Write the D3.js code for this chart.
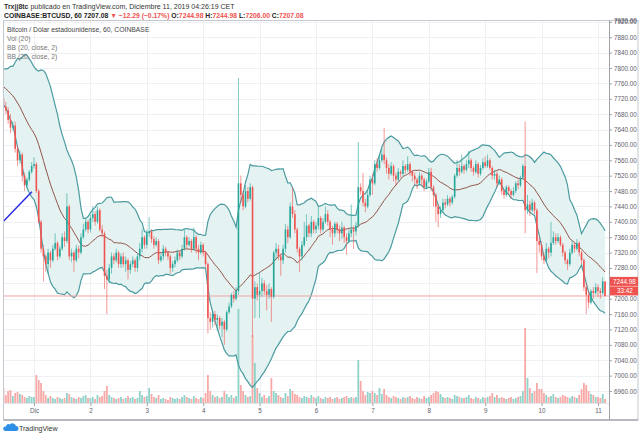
<!DOCTYPE html>
<html><head><meta charset="utf-8">
<script src="https://cdn.jsdelivr.net/npm/d3@7"></script>
<style>body{margin:0;background:#fff;}svg{display:block;font-family:"Liberation Sans",Arial,sans-serif;}</style>
</head><body><svg id="c" width="640" height="435"></svg>
<script>
// hours relative to Dec 1 00:00; first candle = Nov 30 11:00
const startHour = -13;
const firstOpen = 7722;
// 19 closes before the first visible candle (feed the BB(20) calculation only)
const priorCloses = [7790,7785,7770,7775,7760,7765,7780,7770,7755,7750,7760,7745,7740,7730,7745,7735,7725,7730,7715];
const closes = [
 7700,7690,7665,7645,7650,7590,7560,7575,7520,7495,7510,7530,7545,
 7550,7480,7400,7330,7310,7290,7320,7300,7330,7345,7310,7330,7360,7350,7440,7310,7320,7300,7330,7320,7360,7380,7400,7380,
 7410,7420,7400,7430,7380,7370,7260,7250,7280,7310,7300,7320,7290,7310,7290,7300,7275,7290,7300,7280,7310,7330,7360,7340,
 7370,7375,7355,7340,7350,7300,7310,7330,7320,7310,7280,7290,7300,7320,7310,7330,7360,7340,7350,7330,7360,7330,7320,7340,
 7320,7290,7150,7140,7160,7145,7150,7130,7140,7120,7165,7180,7210,7200,7220,7500,7470,7440,7480,7460,7490,7200,7230,7210,
 7220,7240,7220,7210,7225,7205,7320,7330,7310,7300,7330,7380,7360,7440,7420,7380,7330,7310,7340,7360,7390,7370,7400,7380,
 7390,7410,7380,7400,7420,7400,7380,7370,7395,7380,7370,7385,7360,7350,7370,7380,7375,7390,7490,7480,7450,7440,7470,7510,
 7500,7550,7540,7560,7575,7560,7540,7525,7545,7520,7510,7530,7525,7545,7535,7550,7530,7520,7510,7500,7520,7510,7490,7505,
 7530,7490,7470,7440,7420,7430,7450,7445,7460,7450,7465,7520,7540,7530,7545,7535,7550,7560,7540,7530,7550,7525,7540,7555,
 7545,7560,7540,7520,7525,7500,7510,7480,7470,7490,7480,7470,7480,7500,7495,7515,7545,7430,7445,7430,7450,7430,7350,7340,
 7310,7300,7330,7320,7345,7360,7350,7360,7340,7320,7300,7290,7320,7340,7330,7345,7320,7300,7230,7210,7190,7220,7215,7230,
 7220,7215,7244.98,7207.08];
const highs = [
 7730,7712,7698,7680,7662,7660,7600,7585,7580,7528,7515,7535,7555,
 7568,7555,7485,7405,7340,7315,7330,7325,7340,7370,7350,7338,7370,7375,7474,7445,7330,7325,7340,7338,7370,7395,7410,7405,
 7418,7440,7428,7440,7435,7392,7375,7275,7290,7320,7318,7330,7325,7318,7320,7310,7305,7298,7310,7305,7318,7345,7380,7365,
 7380,7412,7380,7362,7360,7355,7318,7340,7335,7325,7315,7298,7310,7328,7325,7340,7380,7365,7360,7355,7385,7365,7340,7348,
 7345,7325,7295,7165,7170,7168,7160,7155,7150,7145,7170,7190,7215,7220,7230,7774,7520,7480,7495,7490,7500,7495,7245,7240,
 7270,7255,7248,7235,7240,7230,7325,7345,7340,7318,7340,7395,7390,7450,7490,7430,7385,7335,7350,7400,7420,7395,7415,7405,
 7400,7440,7415,7410,7440,7430,7405,7390,7400,7400,7390,7400,7390,7370,7380,7445,7390,7400,7607,7500,7527,7460,7480,7520,
 7525,7560,7565,7575,7590,7644,7568,7550,7555,7550,7528,7540,7535,7560,7550,7570,7555,7535,7528,7515,7530,7525,7515,7512,
 7540,7540,7495,7475,7445,7440,7460,7460,7470,7465,7470,7525,7560,7550,7575,7550,7560,7585,7565,7545,7560,7555,7548,7565,
 7570,7575,7565,7545,7535,7530,7520,7515,7485,7495,7495,7485,7490,7505,7510,7520,7550,7660,7470,7455,7460,7455,7435,7360,
 7350,7320,7345,7335,7400,7375,7370,7370,7365,7345,7325,7305,7330,7350,7345,7355,7350,7325,7305,7240,7220,7225,7230,7240,
 7238,7228,7256,7244.98];
const lows = [
 7695,7680,7655,7630,7638,7580,7545,7550,7505,7480,7488,7505,7525,
 7538,7475,7395,7320,7245,7270,7265,7280,7295,7325,7300,7305,7325,7335,7345,7300,7295,7270,7295,7305,7315,7355,7375,7370,
 7372,7400,7390,7395,7375,7360,7225,7160,7240,7265,7290,7295,7280,7280,7282,7270,7250,7265,7282,7270,7270,7300,7320,7330,
 7330,7360,7345,7330,7335,7290,7295,7300,7310,7300,7265,7270,7282,7295,7300,7305,7325,7330,7335,7320,7325,7318,7300,7315,
 7310,7280,7110,7120,7125,7130,7115,7120,7100,7080,7115,7160,7175,7190,7195,7210,7450,7430,7435,7450,7455,7100,7150,7195,
 7150,7205,7210,7170,7200,7140,7200,7300,7300,7260,7290,7320,7345,7355,7410,7370,7320,7270,7300,7335,7350,7360,7360,7370,
 7370,7380,7370,7375,7395,7390,7360,7340,7360,7370,7350,7355,7345,7315,7345,7360,7330,7365,7385,7470,7440,7425,7435,7465,
 7470,7495,7530,7535,7555,7550,7525,7510,7520,7505,7495,7505,7515,7520,7525,7530,7520,7505,7495,7485,7495,7495,7480,7485,
 7500,7480,7440,7400,7386,7410,7425,7435,7440,7440,7445,7460,7515,7520,7525,7525,7530,7540,7530,7520,7525,7515,7520,7535,
 7540,7540,7535,7510,7510,7490,7495,7470,7460,7465,7470,7460,7465,7475,7485,7490,7510,7370,7420,7415,7425,7420,7267,7320,
 7300,7290,7295,7305,7310,7340,7340,7345,7335,7310,7290,7275,7285,7315,7320,7325,7310,7290,7220,7160,7175,7185,7200,7210,
 7205,7200,7210,7206];
const volumes = [
 15,8,12,13,7,10,11,9,8,6,5,7,6,
 6,28,23,20,12,8,5,7,5,4,6,5,4,5,10,9,6,5,4,6,5,7,8,5,
 5,6,4,8,6,7,12,17,8,6,5,4,5,6,4,5,7,5,6,4,5,12,8,6,
 7,15,9,6,5,8,4,5,4,3,6,5,4,5,4,6,8,6,5,4,7,5,4,6,
 5,10,28,12,8,6,7,5,6,12,9,6,8,5,7,94,18,12,8,6,7,68,40,15,
 10,6,8,5,7,25,12,10,8,6,5,10,7,14,12,9,8,6,5,7,6,5,8,6,
 5,7,5,4,6,5,6,4,5,6,4,5,6,7,5,6,5,6,43,22,12,8,11,10,
 12,10,8,15,9,14,8,6,5,7,6,5,4,6,5,6,7,5,4,6,5,4,7,5,
 6,8,10,12,11,9,6,5,6,5,4,8,7,6,5,5,6,8,5,4,6,5,4,6,
 5,6,7,10,6,8,5,6,5,4,5,6,4,5,6,7,12,75,25,15,10,12,20,14,
 14,10,8,6,7,9,6,5,6,8,7,6,5,7,6,5,8,14,20,18,12,9,8,6,
 6,5,9,4];
const dayTicks = [0,24,48,72,96,120,144,168,192,216,240];
const dayLabels = ["Dic","2","3","4","5","6","7","8","9","10","11"];
const priceTicks = [6960,7000,7040,7080,7120,7160,7200,7240,7280,7320,7360,7400,7440,7480,7520,7560,7600,7640,7680,7720,7760,7800,7840,7880,7920];
const trendLine = [{t:-13.2,p:7400},{t:-0.9,p:7478}];
const lastClose = 7207.08, axisLabelPrice = 7244.98, countdown = "33:42";

const svg = d3.select("#c");
const L = 3.5, R = 609, T = 20.5, B = 403;
const x = d3.scaleLinear().domain([0,240]).range([34,598]);
const y = d3.scaleLinear().domain([6960,7800]).range([391,68]);

const data = closes.map((c,i)=>({
  t: startHour+i, o: i===0?firstOpen:closes[i-1], c, h: highs[i], l: lows[i], v: volumes[i]
}));
const all = priorCloses.concat(closes);
data.forEach((d,i)=>{
  const w = all.slice(i, i+20);
  const m = d3.mean(w);
  const sd = Math.sqrt(d3.mean(w.map(v=>(v-m)*(v-m))));
  d.mid = m; d.up = m+2*sd; d.lo = m-2*sd;
});
const vy = d3.scaleLinear().domain([0,d3.max(volumes)]).range([B,309]);

svg.append("rect").attr("width",640).attr("height",435).attr("fill","#fff");
svg.append("defs").append("clipPath").attr("id","pc").append("rect")
  .attr("x",L).attr("y",T).attr("width",R-L).attr("height",B-T);

// grid
const g = svg.append("g").attr("clip-path","url(#pc)");
g.selectAll(".hg").data(priceTicks).join("line")
  .attr("x1",L).attr("x2",R).attr("y1",d=>Math.round(y(d))+0.5).attr("y2",d=>Math.round(y(d))+0.5)
  .attr("stroke","#eef0f3").attr("stroke-width",1);
g.selectAll(".vg").data(dayTicks).join("line")
  .attr("x1",d=>Math.round(x(d))+0.5).attr("x2",d=>Math.round(x(d))+0.5).attr("y1",T).attr("y2",B)
  .attr("stroke","#eef0f3").attr("stroke-width",1);

// BB fill
g.append("path").datum(data)
  .attr("d",d3.area().x(d=>x(d.t)).y0(d=>y(d.lo)).y1(d=>y(d.up)))
  .attr("fill","#e4f2f1");

// volume
const up = "#26a69a", dn = "#ef5350";
g.selectAll(".vol").data(data).join("rect")
  .attr("x",d=>x(d.t)-0.9).attr("width",1.8)
  .attr("y",d=>vy(d.v)).attr("height",d=>B-vy(d.v))
  .attr("fill",d=>d.c>=d.o?"#8fd2ca":"#f7a9a7");

// BB lines
g.append("path").datum(data).attr("fill","none").attr("stroke","#4b9ba0").attr("stroke-width",1.2)
  .attr("d",d3.line().x(d=>x(d.t)).y(d=>y(d.up)));
g.append("path").datum(data).attr("fill","none").attr("stroke","#4b9ba0").attr("stroke-width",1.2)
  .attr("d",d3.line().x(d=>x(d.t)).y(d=>y(d.lo)));
g.append("path").datum(data).attr("fill","none").attr("stroke","#93544b").attr("stroke-width",1)
  .attr("d",d3.line().x(d=>x(d.t)).y(d=>y(d.mid)));

// current price line
g.append("line").attr("x1",L).attr("x2",R).attr("y1",y(lastClose)).attr("y2",y(lastClose))
  .attr("stroke","#f3a3a3").attr("stroke-width",1);

// candles
const cg = g.append("g");
cg.selectAll(".wick").data(data).join("line")
  .attr("x1",d=>x(d.t)).attr("x2",d=>x(d.t)).attr("y1",d=>y(d.h)).attr("y2",d=>y(d.l))
  .attr("stroke",d=>d.c>=d.o?up:dn).attr("stroke-width",0.8).attr("opacity",0.75);
cg.selectAll(".body").data(data).join("rect")
  .attr("x",d=>x(d.t)-0.8).attr("width",1.6)
  .attr("y",d=>y(Math.max(d.o,d.c))).attr("height",d=>Math.max(0.8,Math.abs(y(d.o)-y(d.c))))
  .attr("fill",d=>d.c>=d.o?up:dn);

// trend line drawing
g.append("line").attr("x1",x(trendLine[0].t)).attr("y1",y(trendLine[0].p))
  .attr("x2",x(trendLine[1].t)).attr("y2",y(trendLine[1].p))
  .attr("stroke","#2323e6").attr("stroke-width",1.4);

// frame
svg.append("rect").attr("x",L).attr("y",T).attr("width",638-L).attr("height",420-T)
  .attr("fill","none").attr("stroke","#c4c7cd").attr("stroke-width",1);
svg.append("line").attr("x1",L).attr("x2",638).attr("y1",420).attr("y2",420).attr("stroke","#a9acb3").attr("stroke-width",1.5);
svg.append("line").attr("x1",L).attr("x2",R).attr("y1",B+0.5).attr("y2",B+0.5).attr("stroke","#e3e5e8");

// right axis (the 7240 label sits under the live price tag)
const ya = svg.append("g").attr("transform",`translate(${R},0)`)
  .call(d3.axisRight(y).tickValues(priceTicks).tickFormat(d=>d.toFixed(2)).tickSize(3).tickPadding(2));
ya.select(".domain").attr("stroke","#9ea1a8").attr("d",`M0.5,${T}V420`);
ya.selectAll(".tick line").attr("stroke","#9ea1a8");
ya.selectAll(".tick text").attr("fill","#5d606b").style("font-size","6.3px");
ya.selectAll(".tick").filter(d=>y(d)<T+1).remove();
ya.selectAll(".tick").filter(d=>Math.abs(y(d)-y(axisLabelPrice))<6).select("text").remove();
svg.append("text").attr("x",R+5).attr("y",T+2.5).text("7920.00").attr("fill","#5d606b").style("font-size","6.3px");

// bottom axis
const xa = svg.append("g").attr("transform",`translate(0,${B})`)
  .call(d3.axisBottom(x).tickValues(dayTicks).tickFormat((d,i)=>dayLabels[i]).tickSize(3).tickPadding(3));
xa.select(".domain").remove();
xa.selectAll(".tick line").attr("stroke","#9ea1a8");
xa.selectAll(".tick text").attr("fill","#5d606b").style("font-size","6.3px");

// price labels
const ly = y(axisLabelPrice);
svg.append("rect").attr("x",R+1).attr("y",ly-4.5).attr("width",28).attr("height",9).attr("fill","#ef5350");
svg.append("text").attr("x",R+4).attr("y",ly+2.3).text(axisLabelPrice.toFixed(2)).attr("fill","#fff").style("font-size","6.3px");
svg.append("rect").attr("x",R+1).attr("y",ly+5).attr("width",28).attr("height",9).attr("fill","#ef5350");
svg.append("text").attr("x",R+8).attr("y",ly+11.8).text(countdown).attr("fill","#fff").style("font-size","6.3px");

// header
const h1 = svg.append("text").attr("x",4).attr("y",9).style("font-size","7px").attr("fill","#333");
h1.append("tspan").text("Trxjj8tc").style("font-weight","bold");
h1.append("tspan").text(" publicado en TradingView.com, Diciembre 11, 2019 04:26:19 CET");
const h2 = svg.append("text").attr("x",4).attr("y",18).style("font-size","6.8px").style("font-weight","bold").attr("fill","#222");
const red = "#ef5350";
[["COINBASE:BTCUSD, 60 ","#222"],["7207.08 ","#222"],["▼ −12.29 (−0.17%) ",red],["O:","#222"],["7244.98",red],
 [" H:","#222"],["7244.98",red],[" L:","#222"],["7206.00",red],[" C:","#222"],["7207.08",red]]
 .forEach(([s,c])=>h2.append("tspan").text(s).attr("fill",c));

// legend
const lg = [["Bitcoin / Dólar estadounidense, 60, COINBASE","#444"],["Vol (20)","#777"],["BB (20, close, 2)","#777"],["BB (20, close, 2)","#777"]];
svg.selectAll(".lg").data(lg).join("text").attr("x",7).attr("y",(d,i)=>32+i*9).text(d=>d[0])
  .attr("fill",d=>d[1]).style("font-size","6.8px");

// footer logo
svg.append("path").attr("d","M5,431 h11 a2.5,2.5 0 0 0 0,-5 a3.5,3.5 0 0 0 -6,-1.5 a2.5,2.5 0 0 0 -4,2 a2.2,2.2 0 0 0 -1,4.5z")
  .attr("fill","#2e8fe6");
svg.append("text").attr("x",19).attr("y",431).text("TradingView").attr("fill","#333").style("font-size","7px");
</script></body></html>
